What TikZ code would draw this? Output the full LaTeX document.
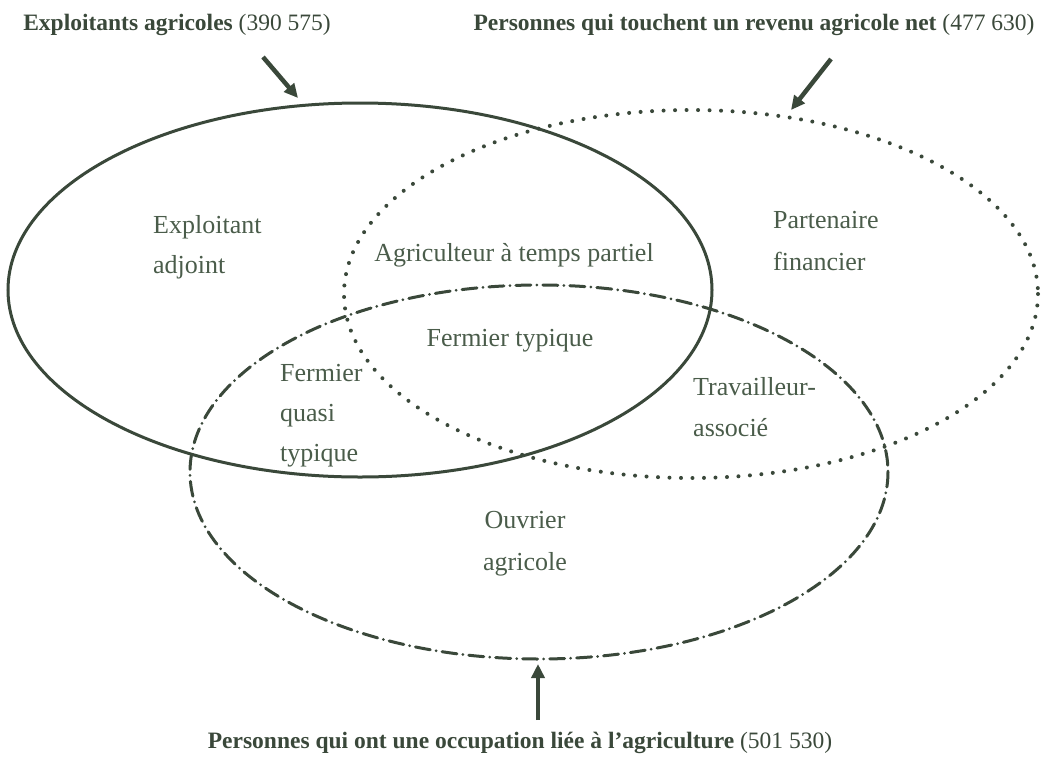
\documentclass[tikz,border=0pt]{standalone}
\usepackage{fontspec}
\setmainfont{Liberation Serif}
\usetikzlibrary{arrows.meta}
\definecolor{vline}{RGB}{58,72,58}
\definecolor{vtext}{RGB}{74,92,74}

\begin{document}
\begin{tikzpicture}[x=1pt,y=-1pt]
    \tikzstyle{larr}=[vline,line width=4.5pt,-{Triangle[length=14pt,width=13pt]}]
    \tikzstyle{zone}=[text=vtext,inner sep=0pt,font=\fontsize{26}{40}\selectfont]
    \tikzstyle{ttl}=[text=vline,inner sep=0pt,font=\fontsize{23.5}{30}\selectfont]

    \useasboundingbox (0,0) rectangle (1045,756);

    % the three sets
    \draw[vline,line width=3pt] (360,290) ellipse [x radius=352, y radius=187];
    \draw[vline,line width=4pt,line cap=round,dash pattern=on 0pt off 11.5pt] (691,294) ellipse [x radius=347, y radius=184];
    \draw[vline,line width=3pt,line cap=round,dash pattern=on 15pt off 6pt on 0pt off 6pt] (539,472) ellipse [x radius=349, y radius=187];

    % zone labels
    \foreach \n/\x/\y/\t in {ea1/153/233/Exploitant, ea2/153/273/adjoint,
                             pf1/773/228/Partenaire, pf2/773/270/financier,
                             fq1/280/381/Fermier, fq2/280/421/quasi, fq3/280/461/typique,
                             ta1/693/395/Travailleur-, ta2/693/436/associé} {
        \node[zone,anchor=base west] (\n) at (\x,\y) {\t};
    }
    \foreach \n/\x/\y/\t in {atp/514/261/Agriculteur à temps partiel, ft/510/346/Fermier typique,
                             oa1/525/528/Ouvrier, oa2/525/570/agricole} {
        \node[zone,anchor=base] (\n) at (\x,\y) {\t};
    }

    % set titles
    \node[ttl,anchor=base] (expl) at (177,30) {\textbf{Exploitants agricoles} (390 575)};
    \node[ttl,anchor=base] (rev) at (754,30) {\textbf{Personnes qui touchent un revenu agricole net} (477 630)};
    \node[ttl,anchor=base] (occ) at (520,748) {\textbf{Personnes qui ont une occupation liée à l'agriculture} (501 530)};

    \coordinate (expl-a) at (263,57);  \coordinate (expl-b) at (298,98);
    \coordinate (rev-a) at (831,59);   \coordinate (rev-b) at (791,110);
    \coordinate (occ-a) at (538,720);  \coordinate (occ-b) at (538,664);
    \foreach \c in {expl, rev, occ} {
        \draw[larr] (\c-a) -- (\c-b);
    }
\end{tikzpicture}
\end{document}
